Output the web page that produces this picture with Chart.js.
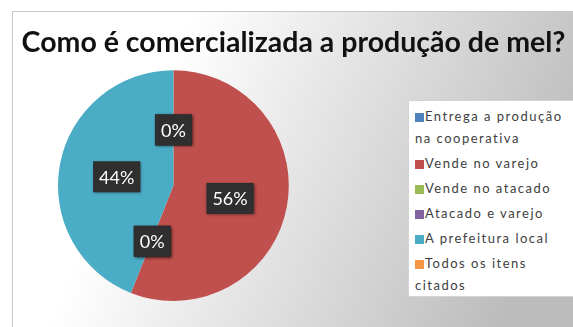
<!DOCTYPE html>
<html lang="pt-BR">
<head>
<meta charset="utf-8">
<title>Comercialização do mel</title>
<script src="https://cdn.jsdelivr.net/npm/chart.js@4.4.1/dist/chart.umd.min.js"></script>
<style>
  html, body { margin: 0; padding: 0; background: #fff; overflow: hidden; }
  #quadro {
    position: absolute; left: 12px; top: 11px; width: 570px; height: 320px;
    border-top: 1px solid #c9c9c9; border-left: 1px solid #c9c9c9;
    background: linear-gradient(115deg, #ffffff 25%, #bcbcbc 88%);
  }
  #grafico { position: absolute; left: 0; top: 0; }
  #legenda {
    position: absolute; left: 395px; top: 88px; width: 166px; height: 197px;
    box-sizing: border-box; background: #fff; border: 1px solid #d4d4d4;
    padding: 4px 0 0 6px;
    font: 13px Lato, sans-serif; letter-spacing: 1.5px; line-height: 22px; color: #404040;
  }
  .item { margin-bottom: 3px; }
  .cor { display: inline-block; width: 9px; height: 9px; margin-right: 1px; vertical-align: -1px; }
</style>
</head>
<body>
<div id="quadro">
  <canvas id="grafico" width="561" height="316"></canvas>
  <div id="legenda"></div>
</div>
<script>
const titulo = 'Como é comercializada a produção de mel?';
const categorias = [
  'Entrega a produção na cooperativa',
  'Vende no varejo',
  'Vende no atacado',
  'Atacado e varejo',
  'A prefeitura local',
  'Todos os itens citados'
];
const percentuais = [0, 56, 0, 0, 44, 0];
const cores = ['#4f81bd', '#c0504d', '#9bbb59', '#8064a2', '#4bacc6', '#f79646'];

// legenda em html, montada a partir das mesmas listas
const legenda = document.getElementById('legenda');
categorias.forEach((nome, i) => {
  const item = document.createElement('div');
  item.className = 'item';
  item.innerHTML = `<span class="cor" style="background:${cores[i]}"></span>${nome}`;
  legenda.appendChild(item);
});

// a pizza fica só do lado esquerdo, a direita é da legenda
const areaPizza = {
  id: 'areaPizza',
  afterLayout(chart) {
    const a = chart.chartArea;
    a.left = 45;
    a.right = a.left + (a.bottom - a.top);
    a.width = a.right - a.left;
  }
};

// caixinhas escuras com o percentual de cada fatia
const rotulos = {
  id: 'rotulos',
  afterDatasetsDraw(chart) {
    const ctx = chart.ctx;
    const meta = chart.getDatasetMeta(0);
    ctx.save();
    ctx.font = '18px Lato, sans-serif';
    ctx.textAlign = 'center';
    ctx.textBaseline = 'middle';
    meta.data.forEach((arco, i) => {
      const { x, y } = arco.tooltipPosition();
      const texto = percentuais[i] + '%';
      const w = ctx.measureText(texto).width + 12;
      const h = 31;
      ctx.shadowColor = 'rgba(0,0,0,0.45)';
      ctx.shadowBlur = 3;
      ctx.shadowOffsetX = 1;
      ctx.shadowOffsetY = 1;
      ctx.fillStyle = '#2f2f2f';
      ctx.fillRect(x - w / 2, y - h / 2 + 2, w, h);
      ctx.shadowColor = 'transparent';
      ctx.fillStyle = '#ffffff';
      ctx.fillText(texto, x, y + 3);
    });
    ctx.restore();
  }
};

new Chart(document.getElementById('grafico'), {
  type: 'pie',
  data: {
    labels: categorias,
    datasets: [{
      data: percentuais,
      backgroundColor: cores,
      borderWidth: 0
    }]
  },
  options: {
    responsive: false,
    animation: false,
    layout: { padding: { top: 0, bottom: 27, left: 0, right: 0 } },
    plugins: {
      legend: { display: false },
      tooltip: { enabled: false },
      title: {
        display: true,
        text: titulo,
        color: '#111111',
        font: { family: 'Lato', size: 28.5, weight: 'bold' },
        padding: { top: 14, bottom: 10 }
      }
    }
  },
  plugins: [areaPizza, rotulos]
});
</script>
</body>
</html>
